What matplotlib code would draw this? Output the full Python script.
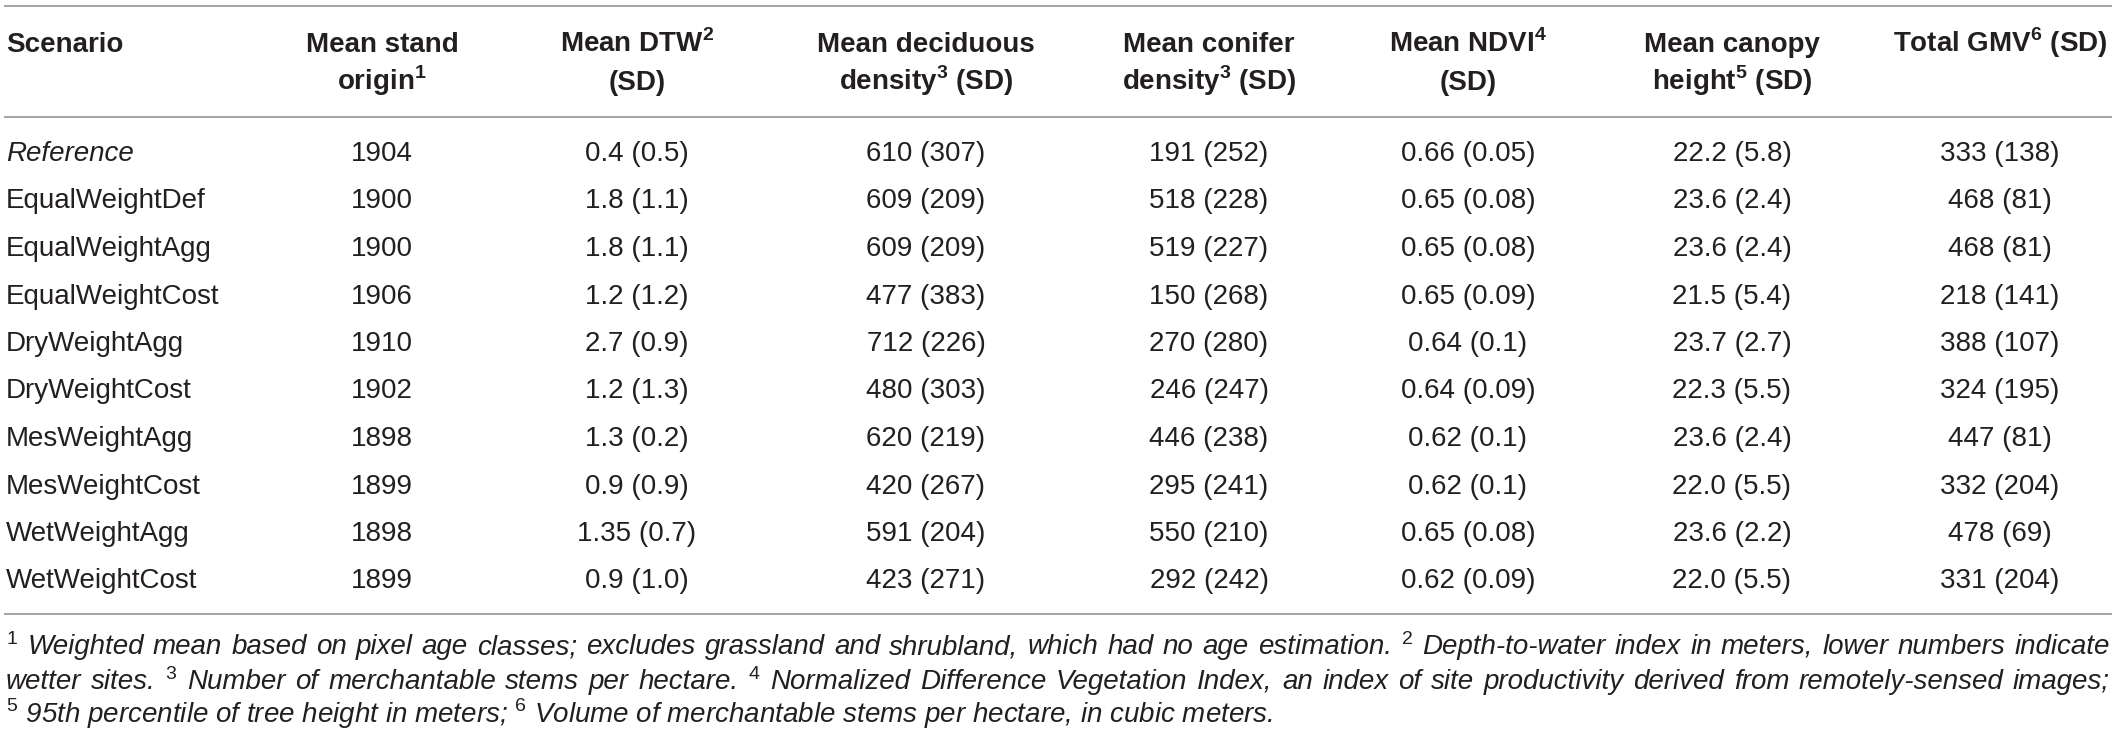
import matplotlib
matplotlib.use("Agg")
import matplotlib.pyplot as plt

plt.rcParams['font.family'] = ['Liberation Sans', 'DejaVu Sans']
plt.rcParams['mathtext.fontset'] = 'custom'
plt.rcParams['mathtext.rm'] = 'Liberation Sans'
plt.rcParams['mathtext.bf'] = 'Liberation Sans:bold'

headers = [
    ("Scenario", ""),
    ("Mean stand", r"origin$^{\mathbf{1}}$"),
    (r"Mean DTW$^{\mathbf{2}}$", "(SD)"),
    ("Mean deciduous", r"density$^{\mathbf{3}}$ (SD)"),
    ("Mean conifer", r"density$^{\mathbf{3}}$ (SD)"),
    (r"Mean NDVI$^{\mathbf{4}}$", "(SD)"),
    ("Mean canopy", r"height$^{\mathbf{5}}$ (SD)"),
    (r"Total GMV$^{\mathbf{6}}$ (SD)", ""),
]

scenarios = ["Reference", "EqualWeightDef", "EqualWeightAgg", "EqualWeightCost",
             "DryWeightAgg", "DryWeightCost", "MesWeightAgg", "MesWeightCost",
             "WetWeightAgg", "WetWeightCost"]
stand_origin = ["1904", "1900", "1900", "1906", "1910", "1902", "1898", "1899", "1898", "1899"]
dtw = ["0.4 (0.5)", "1.8 (1.1)", "1.8 (1.1)", "1.2 (1.2)", "2.7 (0.9)", "1.2 (1.3)",
       "1.3 (0.2)", "0.9 (0.9)", "1.35 (0.7)", "0.9 (1.0)"]
deciduous = ["610 (307)", "609 (209)", "609 (209)", "477 (383)", "712 (226)", "480 (303)",
             "620 (219)", "420 (267)", "591 (204)", "423 (271)"]
conifer = ["191 (252)", "518 (228)", "519 (227)", "150 (268)", "270 (280)", "246 (247)",
           "446 (238)", "295 (241)", "550 (210)", "292 (242)"]
ndvi = ["0.66 (0.05)", "0.65 (0.08)", "0.65 (0.08)", "0.65 (0.09)", "0.64 (0.1)",
        "0.64 (0.09)", "0.62 (0.1)", "0.62 (0.1)", "0.65 (0.08)", "0.62 (0.09)"]
canopy = ["22.2 (5.8)", "23.6 (2.4)", "23.6 (2.4)", "21.5 (5.4)", "23.7 (2.7)", "22.3 (5.5)",
          "23.6 (2.4)", "22.0 (5.5)", "23.6 (2.2)", "22.0 (5.5)"]
gmv = ["333 (138)", "468 (81)", "468 (81)", "218 (141)", "388 (107)", "324 (195)",
       "447 (81)", "332 (204)", "478 (69)", "331 (204)"]

footnotes = [
    "$^{1}$ Weighted mean based on pixel age classes; excludes grassland and shrubland, which had no age estimation. "
    "$^{2}$ Depth-to-water index in meters, lower numbers indicate",
    "wetter sites. $^{3}$ Number of merchantable stems per hectare. $^{4}$ Normalized Difference Vegetation Index, "
    "an index of site productivity derived from remotely-sensed images;",
    "$^{5}$ 95th percentile of tree height in meters; $^{6}$ Volume of merchantable stems per hectare, in cubic meters.",
]

W, H = 2117, 742
fig = plt.figure(figsize=(W / 100, H / 100), dpi=100)
ax = fig.add_axes([0, 0, 1, 1])
ax.set_xlim(0, W)
ax.set_ylim(H, 0)
ax.axis("off")

txt = "#231f20"
rule = "#8c8c8c"
fs = 20
left, right = 6, 2110

col_x = [left, 382, 637, 926, 1209, 1468, 1732, 2000]
cols = [stand_origin, dtw, deciduous, conifer, ndvi, canopy, gmv]

# rules
for y in [5.7, 117, 614]:
    ax.plot([4, 2112], [y, y], color=rule, lw=1.1, solid_capstyle="butt")

# header
for i, (l1, l2) in enumerate(headers):
    ha = "left" if i == 0 else "center"
    ax.text(col_x[i], 51.5, l1, ha=ha, va="baseline", fontsize=fs, fontweight="bold", color=txt)
    if l2:
        ax.text(col_x[i], 90.5, l2, ha=ha, va="baseline", fontsize=fs, fontweight="bold", color=txt)

# body
for r, name in enumerate(scenarios):
    y = 161 + 47.5 * r
    ax.text(col_x[0], y, name, ha="left", va="baseline", fontsize=fs, color=txt,
            style="italic" if r == 0 else "normal")
    for c, vals in enumerate(cols):
        ax.text(col_x[c + 1], y, vals[r], ha="center", va="baseline", fontsize=fs, color=txt)

# footnotes, first two lines justified
fig.canvas.draw()
renderer = fig.canvas.get_renderer()
foot_y = [654, 689, 723]
for i, line in enumerate(footnotes):
    if i == len(footnotes) - 1:
        ax.text(left, foot_y[i], line, ha="left", va="baseline", fontsize=fs,
                style="italic", color=txt)
        continue
    words = line.split(" ")
    items = []
    for w in words:
        t = ax.text(0, foot_y[i], w, ha="left", va="baseline", fontsize=fs,
                    style="italic", color=txt)
        items.append((t, t.get_window_extent(renderer).width))
    total = sum(wd for _, wd in items)
    gap = (right - left - total) / (len(items) - 1)
    x = left
    for t, wd in items:
        t.set_x(x)
        x += wd + gap

fig.savefig("out.png", dpi=100)
